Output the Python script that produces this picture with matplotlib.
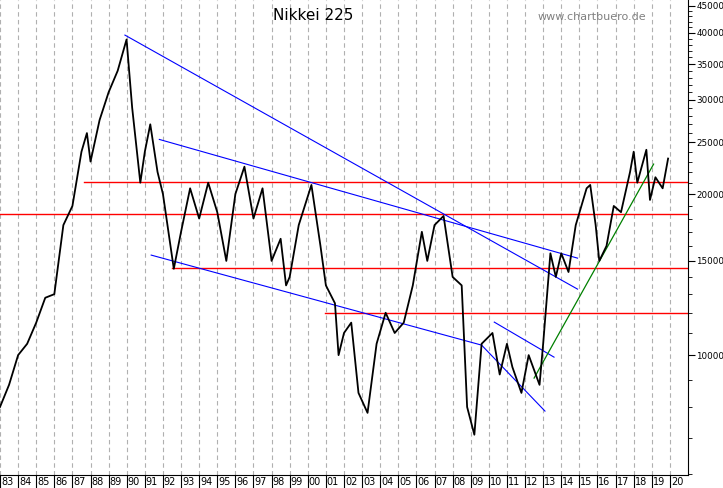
import matplotlib
matplotlib.use("Agg")
import matplotlib.pyplot as plt
import numpy as np

t = [1983.0,1983.5,1984.0,1984.5,1985.0,1985.5,1986.0,1986.5,1987.0,1987.5,1987.8,1988.0,1988.5,1989.0,1989.5,1989.99,
     1990.3,1990.75,1991.0,1991.3,1991.7,1992.0,1992.6,1993.0,1993.5,1994.0,1994.5,1995.0,1995.5,1996.0,1996.5,1997.0,
     1997.5,1998.0,1998.5,1998.8,1999.0,1999.5,2000.2,2000.7,2001.0,2001.5,2001.7,2002.0,2002.4,2002.8,2003.3,2003.8,
     2004.3,2004.8,2005.3,2005.8,2006.3,2006.6,2007.0,2007.5,2008.0,2008.5,2008.8,2009.2,2009.6,2010.2,2010.6,2011.0,
     2011.3,2011.8,2012.2,2012.8,2013.0,2013.4,2013.7,2014.0,2014.4,2014.8,2015.4,2015.6,2015.9,2016.1,2016.5,2016.9,
     2017.3,2017.8,2018.0,2018.2,2018.7,2018.9,2019.2,2019.6,2019.9]
nikkei = [8000,8800,10000,10500,11500,12800,13000,17500,19000,24000,26000,23000,27500,31000,34000,38900,
          29000,21000,24000,27000,22000,20000,14500,17000,20500,18000,21000,18500,15000,20000,22500,18000,
          20500,15000,16500,13500,14000,17500,20800,16000,13500,12500,10000,11000,11500,8500,7800,10500,
          12000,11000,11500,13500,17000,15000,17500,18200,14000,13500,8000,7100,10500,11000,9200,10500,
          9500,8500,10000,8800,10500,15500,14000,15500,14300,17500,20500,20800,17500,15000,16000,19000,
          18500,22000,24000,21000,24200,19500,21500,20500,23300]

red_levels = [21050, 18340, 14540, 11980]
red_starts = [1987.65, 1983.0, 1992.5, 2000.95]
blue_lines = [((1989.9, 39640), (2014.9, 13285)),
              ((1991.8, 25300), (2014.9, 15180)),
              ((1991.35, 15380), (2009.6, 10440)),
              ((2009.6, 10440), (2013.1, 7860)),
              ((2010.3, 11527), (2013.6, 9914))]
green_line = ((2012.5, 9060), (2019.1, 22750))

years = list(range(1983, 2021))
ylabels = [10000, 15000, 20000, 25000, 30000, 35000, 40000, 45000]

fig = plt.figure(figsize=(7.23, 4.88), dpi=100)
ax = fig.add_axes([0.0, 13/488, 688/723, 475/488])
ax.set_yscale('log')
ax.set_xlim(1983.0, 2021.0)
ax.set_ylim(5970, 46100)

for y in years:
    ax.axvline(y, color='#b0b0b0', ls=(0, (4, 3)), lw=0.8, zorder=0)

for lv, st in zip(red_levels, red_starts):
    ax.plot([st, 2021.0], [lv, lv], color='red', lw=1.0)
for (a, b) in blue_lines:
    ax.plot([a[0], b[0]], [a[1], b[1]], color='blue', lw=0.8)
ax.plot([green_line[0][0], green_line[1][0]], [green_line[0][1], green_line[1][1]], color='green', lw=0.9)

ax.plot(t, nikkei, color='black', lw=1.3)

ax.yaxis.tick_right()
ax.set_yticks(ylabels)
ax.set_yticklabels([str(v) for v in ylabels], fontsize=6.3)
ax.set_yticks(list(range(6000, 46000, 1000)), minor=True)
ax.yaxis.set_minor_formatter(matplotlib.ticker.NullFormatter())
ax.tick_params(axis='y', which='major', length=5, pad=1)
ax.tick_params(axis='y', which='minor', length=3)
ax.set_xticks(years)
ax.set_xticklabels([])
ax.tick_params(axis='x', length=0)
for y in years:
    ax.text(y + 0.05, -0.005, '%02d' % (y % 100), transform=ax.get_xaxis_transform(),
            ha='left', va='top', fontsize=7)
    ax.plot([y, y], [-0.028, 0], transform=ax.get_xaxis_transform(), color='black', lw=0.8, clip_on=False)
for s in ['top', 'left']:
    ax.spines[s].set_visible(False)

ax.text(0.455, 0.967, 'Nikkei 225', transform=ax.transAxes, ha='center', va='center', fontsize=11)
ax.text(0.86, 0.965, 'www.chartbuero.de', transform=ax.transAxes, ha='center', va='center', fontsize=8, color='#808080')

fig.savefig('out.png', dpi=100)
